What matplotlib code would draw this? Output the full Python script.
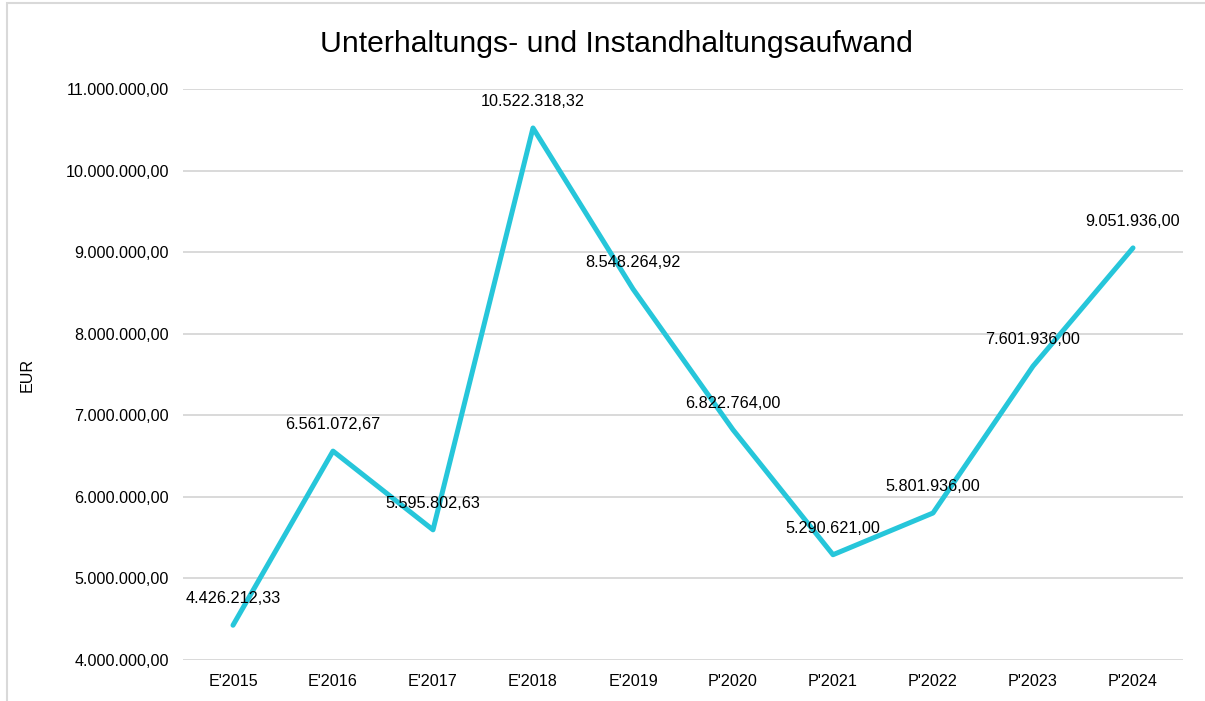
import matplotlib.pyplot as plt
from matplotlib.patches import Rectangle
from matplotlib.ticker import FuncFormatter

plt.rcParams['font.family'] = ['Liberation Sans', 'DejaVu Sans']

years = ["E'2015", "E'2016", "E'2017", "E'2018", "E'2019",
         "P'2020", "P'2021", "P'2022", "P'2023", "P'2024"]
aufwand = [4426212.33, 6561072.67, 5595802.63, 10522318.32, 8548264.92,
           6822764.00, 5290621.00, 5801936.00, 7601936.00, 9051936.00]
y_ticks = [4e6, 5e6, 6e6, 7e6, 8e6, 9e6, 10e6, 11e6]


def de_format(v, pos=None):
    # German number style: 1.234.567,89
    s = f"{v:,.2f}"
    return s.replace(",", "X").replace(".", ",").replace("X", ".")


fig = plt.figure(figsize=(12.05, 7.01), dpi=100)
ax = fig.add_axes([183 / 1205, 1 - 660 / 701, 1000 / 1205, 571 / 701])

x = range(len(years))
ax.plot(x, aufwand, color='#26c6da', linewidth=3.6,
        solid_capstyle='round', solid_joinstyle='round', zorder=3)

for xi, v in zip(x, aufwand):
    ax.annotate(de_format(v), (xi, v), xytext=(0, 19), textcoords='offset points',
                ha='center', va='center', fontsize=11.7, color='black', zorder=4)

ax.set_xlim(-0.5, len(years) - 0.5)
ax.set_ylim(4e6, 11e6)
ax.set_yticks(y_ticks)
ax.yaxis.set_major_formatter(FuncFormatter(de_format))
ax.set_xticks(list(x))
ax.set_xticklabels(years)
ax.tick_params(axis='both', length=0, labelsize=11.6)
ax.tick_params(axis='y', pad=10)
ax.tick_params(axis='x', pad=10)
ax.grid(axis='y', color='#d9d9d9', linewidth=1.4)
ax.set_axisbelow(True)
for s in ax.spines.values():
    s.set_visible(False)

ax.set_ylabel('EUR', fontsize=11.6)
ax.yaxis.set_label_coords(-148 / 1000, 0.5)

fig.text(616 / 1205, 1 - 44 / 701, 'Unterhaltungs- und Instandhaltungsaufwand',
         ha='center', va='center', fontsize=21.7)

# light frame around the chart (left and top edges visible)
fig.patches.append(Rectangle((7 / 1205, -0.1), 1.5, 1 - 3 / 701 + 0.1,
                             transform=fig.transFigure, fill=False,
                             edgecolor='#d9d9d9', linewidth=1.5))

fig.savefig('out.png', dpi=100)
